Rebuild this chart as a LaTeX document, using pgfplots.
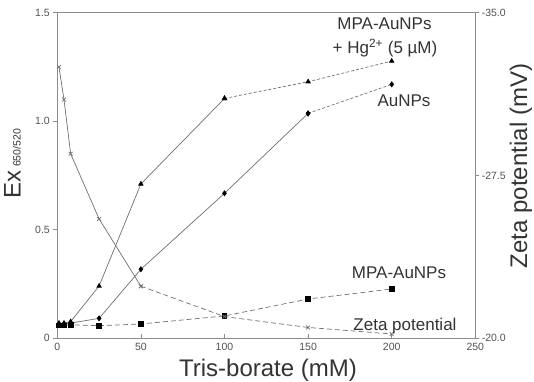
\documentclass[border=0pt]{standalone}
\usepackage{pgfplots}
\pgfplotsset{compat=1.18}
\usepackage{fontspec}
\setmainfont{Liberation Sans}
\definecolor{axgray}{HTML}{8C8C8C}
\definecolor{lngray}{HTML}{707070}
\definecolor{txt}{HTML}{333333}
\begin{document}
\begin{tikzpicture}
\pgfplotsset{
 base/.style={width=418bp,height=325.6bp,scale only axis,xmin=0,xmax=250,clip=false,
   axis line style={axgray,line width=0.8bp},
   tick style={axgray,line width=0.6bp},
   major tick length=4bp,
   tick label style={font=\fontsize{10.5bp}{12bp}\selectfont,text=txt!85},
 },
 ser/.style={lngray,line width=0.7bp,mark size=2.5bp,mark options={black,fill=black,solid}},
}
\begin{axis}[base, ymin=0,ymax=1.5,
  xtick={0,50,100,150,200,250}, xticklabels={0,50,100,150,200,250},
  ytick={0,0.5,1,1.5}, yticklabels={0,0.5,1.0,1.5},
  xtick pos=bottom, ytick pos=left, xtick align=inside, ytick align=outside,
  xticklabel style={yshift=-1bp}]
% MPA-AuNPs + Hg2+
\addplot[ser, mark=triangle*] coordinates {(1,0.07) (4,0.07) (8,0.077) (25,0.241) (50,0.711) (100,1.105)};
\addplot[ser, densely dashed, mark=triangle*] coordinates {(100,1.105) (150,1.182) (200,1.277)};
% AuNPs
\addplot[ser, mark=diamond*] coordinates {(1,0.065) (4,0.065) (8,0.07) (25,0.092) (50,0.318) (100,0.668) (150,1.036)};
\addplot[ser, densely dashed, mark=diamond*] coordinates {(150,1.036) (200,1.170)};
% MPA-AuNPs
\addplot[ser, dash pattern=on 5bp off 3bp, mark=square*, mark size=2.3bp] coordinates {(1,0.06) (4,0.06) (8,0.062) (25,0.058) (50,0.066) (100,0.103) (150,0.181) (200,0.227)};
\end{axis}
\begin{axis}[base, ymin=-35, ymax=-20, y dir=reverse, axis x line=none, axis y line*=right,
  ytick={-35,-27.5,-20}, yticklabels={-35.0,-27.5,-20.0}, ytick align=outside,
  yticklabel style={anchor=west, xshift=-1bp}]
% Zeta potential
\addplot[ser, mark=x, mark size=2.7bp, mark options={lngray,solid}] coordinates {(1,-32.5) (4,-31.0) (8,-28.5) (25,-25.5) (50,-22.4)};
\addplot[ser, dash pattern=on 5bp off 3bp, mark=x, mark size=2.7bp, mark options={lngray,solid}] coordinates {(50,-22.4) (100,-21.0) (150,-20.5) (200,-20.2)};
\end{axis}
\coordinate (O) at ([shift={(-57.3bp,-43.7bp)}]current axis.south west);
\path (O) rectangle ++(534bp,382bp);
\begin{scope}[every node/.style={text=txt, inner sep=0pt}]
\node[anchor=base, font=\fontsize{24bp}{28bp}\selectfont] at ([shift={(268bp,5.3bp)}]O) {Tris-borate (mM)};
\node[anchor=base, rotate=90] at ([shift={(20.7bp,218bp)}]O) {\fontsize{24bp}{28bp}\selectfont Ex\,{\fontsize{10.5bp}{12bp}\selectfont 650/520}};
\node[anchor=base, rotate=90, font=\fontsize{24bp}{28bp}\selectfont] at ([shift={(527bp,216bp)}]O) {Zeta potential (mV)};
\begin{scope}[every node/.append style={anchor=base, font=\fontsize{17bp}{20bp}\selectfont}]
\node at ([shift={(384.5bp,352bp)}]O) {MPA-AuNPs};
\node at ([shift={(385bp,328.7bp)}]O) {+ Hg\textsuperscript{2+} (5 µM)};
\node at ([shift={(404bp,275.3bp)}]O) {AuNPs};
\node at ([shift={(399bp,103.7bp)}]O) {MPA-AuNPs};
\node at ([shift={(405bp,52bp)}]O) {Zeta potential};
\end{scope}
\end{scope}
\end{tikzpicture}
\end{document}
